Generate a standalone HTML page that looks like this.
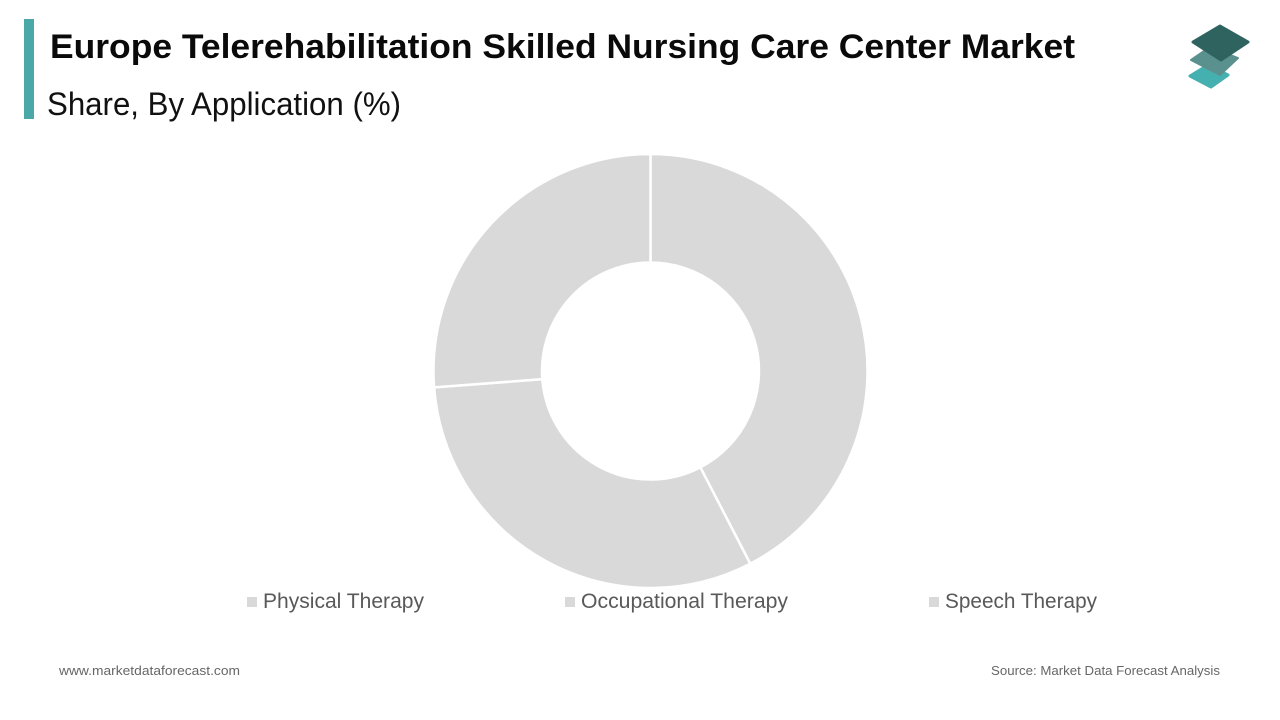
<!DOCTYPE html>
<html lang="en">
<head>
<meta charset="utf-8">
<title>Europe Telerehabilitation Skilled Nursing Care Center Market</title>
<style>
html,body{margin:0;padding:0;background:#fff;width:1280px;height:720px;overflow:hidden}
svg{display:block}
text{font-family:"Liberation Sans",sans-serif}
</style>
</head>
<body>
<svg id="chart" width="1280" height="720" viewBox="0 0 1280 720" xmlns="http://www.w3.org/2000/svg">
  <rect width="1280" height="720" fill="#ffffff"/>
  <rect x="24" y="19" width="10" height="100" fill="#4aa9a8"/>
  <text x="50" y="58" font-size="34.5" font-weight="700" fill="#0a0a0a" textLength="1025" lengthAdjust="spacingAndGlyphs">Europe Telerehabilitation Skilled Nursing Care Center Market</text>
  <text x="47" y="115" font-size="32" fill="#111111" textLength="354" lengthAdjust="spacingAndGlyphs">Share, By Application (%)</text>

  <g>
    <path d="M1190 76 L1208 65 L1228 75 L1211 87 Z" fill="#45b0b0" stroke="#45b0b0" stroke-width="3" stroke-linejoin="round"/>
    <path d="M1191 60 L1210 47 L1238 58 L1220 75 Z" fill="#5a918f" stroke="#5a918f" stroke-width="2" stroke-linejoin="round"/>
    <path d="M1193 42 L1220 26 L1248 42 L1221 60 Z" fill="#2f6360" stroke="#2f6360" stroke-width="3" stroke-linejoin="round"/>
  </g>

  <g id="donut"></g>
  <g id="legend"></g>

  <text x="59" y="675" font-size="13" fill="#666666" textLength="181" lengthAdjust="spacingAndGlyphs">www.marketdataforecast.com</text>
  <text x="991" y="675" font-size="13" fill="#666666" textLength="229" lengthAdjust="spacingAndGlyphs">Source: Market Data Forecast Analysis</text>
</svg>
<script>
const categories = ["Physical Therapy", "Occupational Therapy", "Speech Therapy"];
const shareValues = [42.4, 31.4, 26.2];
const sliceColors = ["#d9d9d9", "#d9d9d9", "#d9d9d9"];

const NS = "http://www.w3.org/2000/svg";
const cx = 650.5, cy = 371, outerR = 217, innerR = 108.5;
const legendX = [247, 565, 929];
const labelWidths = [161, 207, 152];

function angleOf(cumulative, total) {
  return (cumulative / total) * 2 * Math.PI - Math.PI / 2;
}
function point(r, a) {
  return (cx + r * Math.cos(a)).toFixed(2) + " " + (cy + r * Math.sin(a)).toFixed(2);
}
function slicePath(a0, a1) {
  const large = a1 - a0 > Math.PI ? 1 : 0;
  return "M" + point(outerR, a0) +
    " A" + outerR + " " + outerR + " 0 " + large + " 1 " + point(outerR, a1) +
    " L" + point(innerR, a1) +
    " A" + innerR + " " + innerR + " 0 " + large + " 0 " + point(innerR, a0) + " Z";
}

const donut = document.getElementById("donut");
const legend = document.getElementById("legend");
const total = shareValues.reduce((s, v) => s + v, 0);
let running = 0;
shareValues.forEach((value, i) => {
  const a0 = angleOf(running, total);
  running += value;
  const a1 = angleOf(running, total);
  const slice = document.createElementNS(NS, "path");
  slice.setAttribute("d", slicePath(a0, a1));
  slice.setAttribute("fill", sliceColors[i]);
  slice.setAttribute("stroke", "#ffffff");
  slice.setAttribute("stroke-width", "2.5");
  
  
  donut.appendChild(slice);

  const swatch = document.createElementNS(NS, "rect");
  swatch.setAttribute("x", legendX[i]);
  swatch.setAttribute("y", 597);
  swatch.setAttribute("width", 10);
  swatch.setAttribute("height", 10);
  swatch.setAttribute("fill", sliceColors[i]);
  
  
  legend.appendChild(swatch);

  const label = document.createElementNS(NS, "text");
  label.setAttribute("x", legendX[i] + 16);
  label.setAttribute("y", 608);
  label.setAttribute("font-size", "21");
  label.setAttribute("fill", "#595959");
  label.setAttribute("textLength", labelWidths[i]);
  label.setAttribute("lengthAdjust", "spacingAndGlyphs");
  label.textContent = categories[i];
  
  
  legend.appendChild(label);
});
</script>
</body>
</html>
